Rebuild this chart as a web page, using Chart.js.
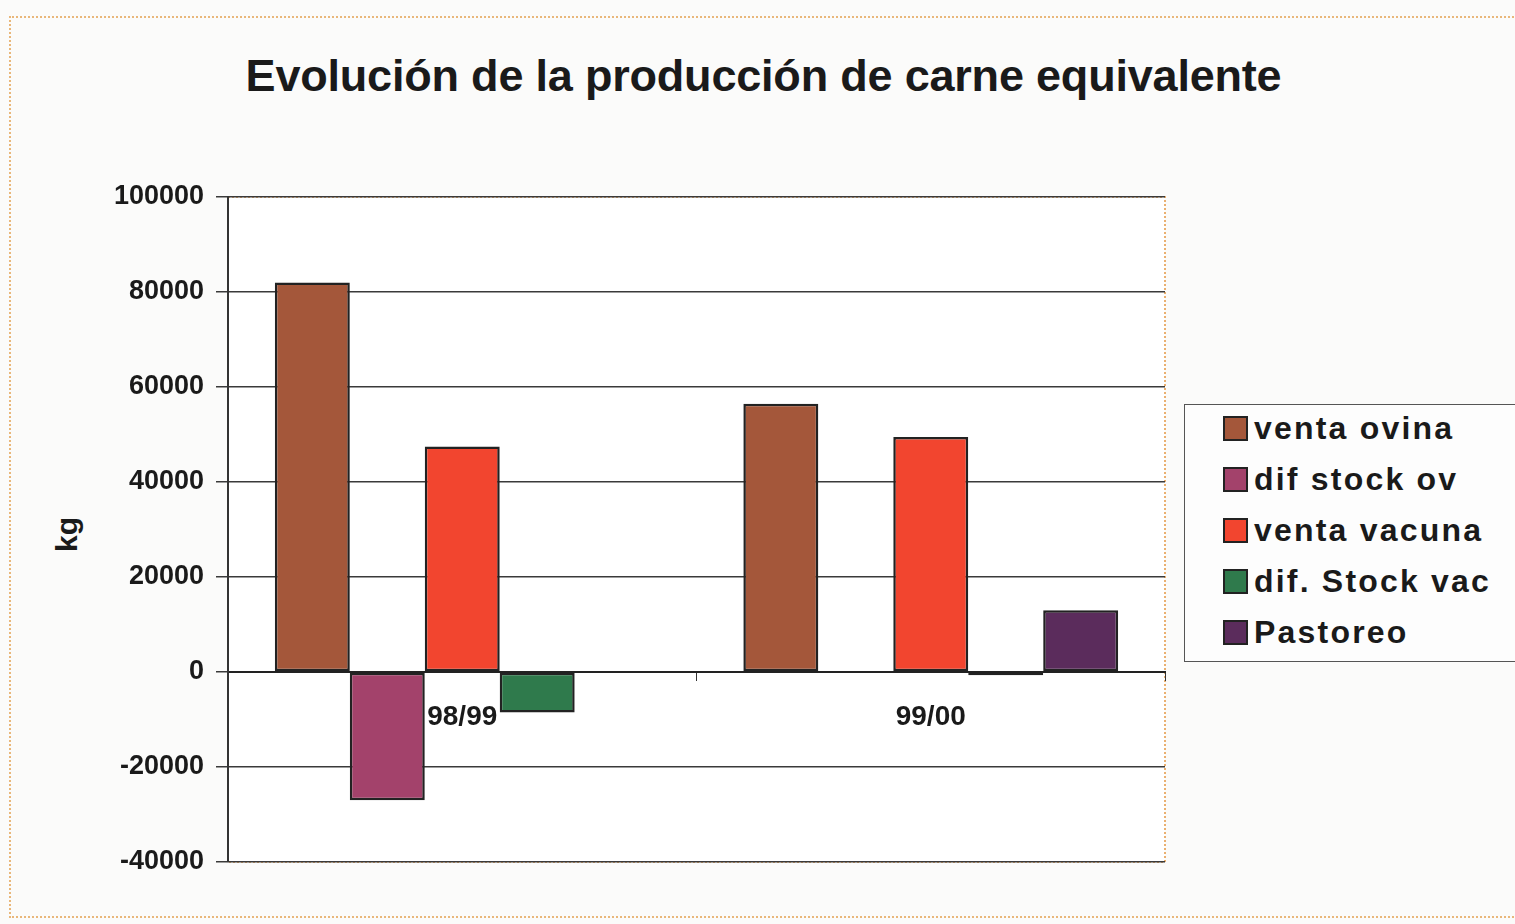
<!DOCTYPE html>
<html>
<head>
<meta charset="utf-8">
<script src="https://cdn.jsdelivr.net/npm/chart.js@4.4.1/dist/chart.umd.min.js"></script>
<style>
  html, body { margin: 0; padding: 0; background: #fbfbfa; }
  #wrap { position: relative; width: 1515px; height: 924px; overflow: hidden; font-family: "Liberation Sans", Arial, sans-serif; }
  #frame { position: absolute; left: 9px; top: 16px; width: 1520px; height: 902px; border: 2px dotted #e9b77a; box-sizing: border-box; }
  #title { position: absolute; left: 0; top: 50px; width: 1527px; text-align: center; font-weight: bold; font-size: 45px; color: #1a1a1a; letter-spacing: -0.2px; }
  #ylab { position: absolute; left: 50px; top: 552px; font-weight: bold; font-size: 30px; color: #1a1a1a; transform: rotate(-90deg); transform-origin: left top; }
  #legend { position: absolute; left: 1184px; top: 404px; width: 340px; height: 258px; border: 1.5px solid #555; box-sizing: border-box; background: #fdfdfd; }
  .item { position: absolute; left: 38px; font-weight: bold; font-size: 32px; color: #1a1a1a; letter-spacing: 2.2px; white-space: nowrap; }
  .sw { display: inline-block; width: 21px; height: 21px; border: 2px solid #222; margin-right: 6px; vertical-align: -2px; }
  canvas { position: absolute; left: 0; top: 0; }
</style>
</head>
<body>
<div id="wrap">
  <div id="frame"></div>
  <div id="title">Evolución de la producción de carne equivalente</div>
  <div id="ylab">kg</div>
  <canvas id="chart" width="1515" height="924"></canvas>
  <div id="legend"></div>
</div>
<script>
const categories = ['98/99', '99/00'];
const seriesNames = ['venta ovina', 'dif stock ov', 'venta vacuna', 'dif. Stock vac', 'Pastoreo'];
const ventaOvina = [82000, 56500];
const difStockOv = [-27000, 0];
const ventaVacuna = [47500, 49500];
const difStockVac = [-8500, -700];
const pastoreo = [0, 13000];
const yTicks = [100000, 80000, 60000, 40000, 20000, 0, -20000, -40000];

const colors = ['#a4573a', '#a3426b', '#f2452f', '#2f7a4c', '#5b2c5c'];
const seriesValues = [ventaOvina, difStockOv, ventaVacuna, difStockVac, pastoreo];

// legend as real text
const legend = document.getElementById('legend');
seriesNames.forEach((name, i) => {
  const d = document.createElement('div');
  d.className = 'item';
  d.style.top = (5 + i * 51) + 'px';
  d.innerHTML = '<span class="sw" style="background:' + colors[i] + '"></span>' + name;
  legend.appendChild(d);
});

const plotBorder = {
  id: 'plotBorder',
  beforeDraw(chart) {
    const { ctx, chartArea: a } = chart;
    ctx.save();
    ctx.fillStyle = '#ffffff';
    ctx.fillRect(a.left, a.top, a.right - a.left, a.bottom - a.top);
    ctx.setLineDash([2, 2]);
    ctx.strokeStyle = '#eab070';
    ctx.lineWidth = 2;
    ctx.strokeRect(a.left, a.top, a.right - a.left, a.bottom - a.top);
    ctx.restore();
  }
};

const ctx = document.getElementById('chart').getContext('2d');
new Chart(ctx, {
  type: 'bar',
  data: {
    labels: categories,
    datasets: seriesNames.map((name, i) => ({
      label: name,
      data: seriesValues[i],
      backgroundColor: colors[i],
      borderColor: '#222222',
      borderWidth: 2.5,
      borderSkipped: false,
      categoryPercentage: 0.8,
      barPercentage: 1.0
    }))
  },
  options: {
    responsive: false,
    animation: false,
    layout: { padding: { left: 0, top: 197, right: 350, bottom: 62 } },
    plugins: { legend: { display: false }, tooltip: { enabled: false } },
    scales: {
      x: {
        position: { y: 0 },
        grid: { display: true, drawOnChartArea: false, offset: true, tickLength: 8, color: '#333' },
        border: { display: true, color: '#222', width: 2 },
        ticks: {
          color: '#1a1a1a',
          font: { family: 'Liberation Sans', size: 28, weight: 'bold' },
          padding: 20
        }
      },
      y: {
        min: -40000,
        max: 100000,
        afterBuildTicks(scale) { scale.ticks = yTicks.map(v => ({ value: v })); },
        afterFit(scale) { scale.width = 228; },
        grid: { color: '#3a3a3a', lineWidth: 1.5, tickLength: 12, drawTicks: true },
        border: { display: true, color: '#333', width: 2 },
        ticks: {
          color: '#1a1a1a',
          font: { family: 'Liberation Sans', size: 27, weight: 'bold' },
          padding: 12,
          callback: v => String(v)
        }
      }
    }
  },
  plugins: [plotBorder]
});
</script>
</body>
</html>
